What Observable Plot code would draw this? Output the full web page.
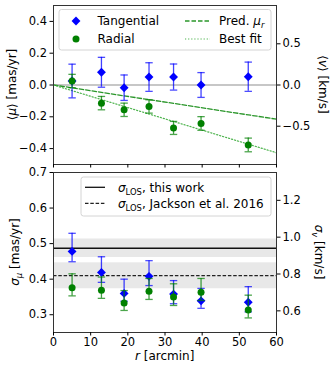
<!DOCTYPE html>
<html><head><meta charset="utf-8">
<script src="https://cdn.jsdelivr.net/npm/d3@7"></script>
<script src="https://cdn.jsdelivr.net/npm/@observablehq/plot@0.6"></script>
<style>
html,body{margin:0;padding:0;background:#fff;}
#chart{position:relative;width:332px;height:367px;font-family:"DejaVu Sans",sans-serif;}
#chart svg{display:block;}
</style></head><body><div id="chart"></div>
<script>
// ---- data ----
const radius = [5, 12.9, 19, 25.7, 32.3, 39.7, 52.4];          // r [arcmin]
const muTang = [0.025, 0.08, -0.017, 0.05, 0.05, 0.0, 0.052];  // <mu> tangential
const muTangErr = [0.106, 0.094, 0.08, 0.09, 0.082, 0.078, 0.092];
const muRad = [0.025, -0.114, -0.156, -0.135, -0.27, -0.242, -0.377];
const muRadErr = [0.042, 0.042, 0.042, 0.042, 0.041, 0.043, 0.043];
const lineR = [0, 60];
const predMu = [0, -0.215];   // Pred. mu_r
const fitMu = [0, -0.426];    // Best fit

const sigTang = [0.478, 0.419, 0.36, 0.408, 0.358, 0.339, 0.335];
const sigTangLo = [0.449, 0.391, 0.338, 0.382, 0.331, 0.318, 0.308];
const sigTangHi = [0.529, 0.463, 0.4, 0.452, 0.396, 0.374, 0.379];
const sigRad = [0.376, 0.369, 0.333, 0.366, 0.350, 0.363, 0.313];
const sigRadLo = [0.353, 0.346, 0.312, 0.343, 0.326, 0.34, 0.291];
const sigRadHi = [0.415, 0.406, 0.368, 0.402, 0.387, 0.402, 0.355];

const losThis = [0.487], losThisLo = [0.461], losThisHi = [0.513];
const losJack = [0.41], losJackLo = [0.373], losJackHi = [0.446];

const xTicks = [0, 10, 20, 30, 40, 50, 60];
const muTicks = [-0.4, -0.2, 0.0, 0.2, 0.4];
const vTicks = [-0.5, 0.0, 0.5];
const sigTicks = [0.3, 0.4, 0.5, 0.6, 0.7];
const sigVTicks = [0.6, 0.8, 1.0, 1.2];
const kmsPerMas = 1.93;

// ---- tables ----
const tang = radius.map((r, i) => ({r, v: muTang[i], lo: muTang[i] - muTangErr[i], hi: muTang[i] + muTangErr[i]}));
const rad = radius.map((r, i) => ({r, v: muRad[i], lo: muRad[i] - muRadErr[i], hi: muRad[i] + muRadErr[i]}));
const pred = lineR.map((r, i) => ({r, v: predMu[i]}));
const fit = lineR.map((r, i) => ({r, v: fitMu[i]}));
const sTang = radius.map((r, i) => ({r, v: sigTang[i], lo: sigTangLo[i], hi: sigTangHi[i]}));
const sRad = radius.map((r, i) => ({r, v: sigRad[i], lo: sigRadLo[i], hi: sigRadHi[i]}));
const bands = [
  {lo: losThisLo[0], hi: losThisHi[0]},
  {lo: losJackLo[0], hi: losJackHi[0]}
];

const fmt1 = d3.format(".1f");
const cap = {draw(ctx, size) { const w = Math.sqrt(size / Math.PI); ctx.moveTo(-w, 0); ctx.lineTo(w, 0); }};

function errMarks(data, color) {
  return [
    Plot.ruleX(data, {x: "r", y1: "lo", y2: "hi", stroke: color, strokeWidth: 1.3, strokeOpacity: 0.75}),
    Plot.dot(data, {x: "r", y: "lo", symbol: cap, r: 3.7, stroke: color, fill: "none", strokeWidth: 1.3, strokeOpacity: 0.7}),
    Plot.dot(data, {x: "r", y: "hi", symbol: cap, r: 3.7, stroke: color, fill: "none", strokeWidth: 1.3, strokeOpacity: 0.7})
  ];
}
const tangDots = d => Plot.dot(d, {x: "r", y: "v", symbol: "diamond2", r: 4, fill: "blue", stroke: "none"});
const radDots = d => Plot.dot(d, {x: "r", y: "v", symbol: "circle", r: 3.5, fill: "green", stroke: "none"});

const style = {fontFamily: "DejaVu Sans", fontSize: "11.5px", color: "black", background: "white", overflow: "visible"};
const axisOpts = {tickSize: 3.5, label: null};

const topPlot = Plot.plot({
  width: 332, height: 168, marginLeft: 53, marginRight: 56, marginTop: 5, marginBottom: 4,
  x: {domain: [0, 60], axis: null},
  y: {domain: [-0.5, 0.5], axis: null},
  style,
  marks: [
    Plot.ruleY([0], {stroke: "#8f8f8f", strokeWidth: 1.1}),
    Plot.line(pred, {x: "r", y: "v", stroke: "#2a962a", strokeWidth: 1.3, strokeDasharray: "4.5,2"}),
    Plot.line(fit, {x: "r", y: "v", stroke: "#4db34d", strokeWidth: 1.2, strokeDasharray: "1.2,1.9"}),
    ...errMarks(tang, "blue"),
    tangDots(tang),
    ...errMarks(rad, "green"),
    radDots(rad),
    Plot.frame({stroke: "#333"}),
    Plot.axisX({...axisOpts, ticks: xTicks, tickFormat: () => ""}),
    Plot.axisY({...axisOpts, anchor: "left", ticks: muTicks, tickPadding: 3, tickFormat: fmt1}),
    Plot.axisY({...axisOpts, anchor: "right", ticks: vTicks.map(v => v / kmsPerMas), tickPadding: 2.5, tickFormat: d => fmt1(d * kmsPerMas)})
  ]
});

const bottomPlot = Plot.plot({
  width: 332, height: 199, marginLeft: 53, marginRight: 56, marginTop: 4, marginBottom: 35,
  x: {domain: [0, 60], axis: null},
  y: {domain: [0.25, 0.7], axis: null},
  style,
  marks: [
    Plot.rect(bands, {x1: 0, x2: 60, y1: "lo", y2: "hi", fill: "#e8e8e8"}),
    Plot.ruleY(losThis, {stroke: "#111", strokeWidth: 1.3}),
    Plot.ruleY(losJack, {stroke: "#222", strokeWidth: 1.2, strokeDasharray: "3.5,1.8"}),
    ...errMarks(sTang, "blue"),
    tangDots(sTang),
    ...errMarks(sRad, "green"),
    radDots(sRad),
    Plot.frame({stroke: "#333"}),
    Plot.axisX({...axisOpts, ticks: xTicks, tickPadding: 2, tickFormat: d3.format("d")}),
    Plot.axisY({...axisOpts, anchor: "left", ticks: sigTicks, tickPadding: 3, tickFormat: fmt1}),
    Plot.axisY({...axisOpts, anchor: "right", ticks: sigVTicks.map(v => v / kmsPerMas), tickPadding: 2.5, tickFormat: d => fmt1(d * kmsPerMas)})
  ]
});

const chart = document.getElementById("chart");
chart.append(topPlot, bottomPlot);

// ---- rich text labels and legends ----
function richText(sel, x, y, parts, opts = {}) {
  const size = opts.size || 12;
  const t = sel.append("text").attr("x", x).attr("y", y)
    .attr("font-size", size).attr("font-family", "DejaVu Sans")
    .attr("text-anchor", opts.anchor || "start").attr("fill", "black");
  if (opts.rotate) t.attr("transform", `rotate(${opts.rotate},${x},${y})`);
  let shift = 0;
  for (const p of parts) {
    const s = t.append("tspan").text(p.t);
    if (p.i) s.attr("font-style", "italic");
    const target = p.sub ? size * 0.25 : 0;
    if (target !== shift) { s.attr("dy", target - shift); shift = target; }
    if (p.sub) s.attr("font-size", size * 0.7);
  }
  return t;
}

const sTop = d3.select(topPlot);
const sBot = d3.select(bottomPlot);

// axis labels
richText(sTop, 15.5, 84.5, [{t: "⟨"}, {t: "μ", i: true}, {t: "⟩ [mas/yr]"}], {anchor: "middle", rotate: -90});
richText(sTop, 318.8, 84.5, [{t: "⟨"}, {t: "v", i: true}, {t: "⟩ [km/s]"}], {anchor: "middle", rotate: 90});
richText(sBot, 18.5, 84, [{t: "σ", i: true}, {t: "μ", i: true, sub: true}, {t: " [mas/yr]"}], {anchor: "middle", rotate: -90});
richText(sBot, 315, 84, [{t: "σ", i: true}, {t: "v", i: true, sub: true}, {t: " [km/s]"}], {anchor: "middle", rotate: 90});
richText(sBot, 164.7, 192.2, [{t: "r", i: true}, {t: " [arcmin]"}], {anchor: "middle"});

// top legend
const lg = sTop.append("g");
lg.append("rect").attr("x", 59).attr("y", 9.5).attr("width", 212).attr("height", 40.5).attr("rx", 2.5)
  .attr("fill", "white").attr("fill-opacity", 0.85).attr("stroke", "#d4d4d4").attr("stroke-width", 1);
lg.append("path").attr("d", d3.symbol(d3.symbolDiamond2, Math.PI * 16)()).attr("transform", "translate(76,21)").attr("fill", "blue");
lg.append("circle").attr("cx", 76).attr("cy", 39).attr("r", 3.5).attr("fill", "green");
richText(lg, 97.5, 25.3, [{t: "Tangential"}]);
richText(lg, 97.5, 43.3, [{t: "Radial"}]);
lg.append("line").attr("x1", 185).attr("x2", 210).attr("y1", 21).attr("y2", 21).attr("stroke", "#2a962a").attr("stroke-width", 1.3).attr("stroke-dasharray", "4.5,2");
lg.append("line").attr("x1", 185).attr("x2", 210).attr("y1", 39).attr("y2", 39).attr("stroke", "#4db34d").attr("stroke-width", 1.2).attr("stroke-dasharray", "1.2,1.9");
richText(lg, 219, 25.3, [{t: "Pred. "}, {t: "μ", i: true}, {t: "r", i: true, sub: true}]);
richText(lg, 219, 43.3, [{t: "Best fit"}]);

// bottom legend
const lb = sBot.append("g");
lb.append("rect").attr("x", 81).attr("y", 9).attr("width", 190).attr("height", 39).attr("rx", 2.5)
  .attr("fill", "white").attr("fill-opacity", 0.85).attr("stroke", "#d4d4d4").attr("stroke-width", 1);
lb.append("line").attr("x1", 85).attr("x2", 105).attr("y1", 19.3).attr("y2", 19.3).attr("stroke", "#111").attr("stroke-width", 1.3);
lb.append("line").attr("x1", 85).attr("x2", 105).attr("y1", 35.3).attr("y2", 35.3).attr("stroke", "#222").attr("stroke-width", 1.2).attr("stroke-dasharray", "3.5,1.8");
richText(lb, 118, 23.5, [{t: "σ", i: true}, {t: "LOS", sub: true}, {t: ", this work"}]);
richText(lb, 118, 39.5, [{t: "σ", i: true}, {t: "LOS", sub: true}, {t: ", Jackson et al. 2016"}]);
</script>
</body></html>
